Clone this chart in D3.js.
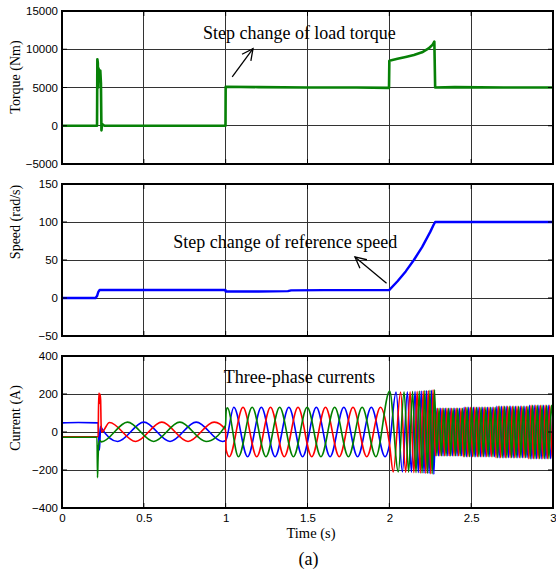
<!DOCTYPE html>
<html><head><meta charset="utf-8">
<script src="https://cdn.jsdelivr.net/npm/d3@7"></script>
<style>body{margin:0;background:#fff} svg{display:block;background:#fff}</style>
</head><body><svg id="c" width="556" height="576"></svg>
<script>
// ---------- data ----------
const torque = [[0,0],[0.1,0],[0.214,0],[0.216,8700],[0.219,8200],[0.221,5000],[0.223,7500],[0.228,7000],[0.234,7200],[0.238,5500],[0.241,-600],[0.245,200],[0.26,0],[0.6,0],[0.999,0],[1.0,5100],[1.2,5050],[1.5,5000],[1.8,5000],[1.998,4950],[2.0,8500],[2.05,8750],[2.1,9000],[2.15,9250],[2.2,9600],[2.24,10100],[2.265,10600],[2.275,11000],[2.28,5000],[2.4,5050],[2.7,5000],[3.0,5000]];
const speed = [[0,0],[0.205,0],[0.215,3],[0.222,8],[0.23,10.5],[0.5,10.5],[0.999,10.5],[1.0,8.5],[1.2,8.5],[1.38,9],[1.4,10],[1.6,10.3],[1.999,10.3],[2.05,22],[2.1,35],[2.15,50],[2.2,67],[2.25,87],[2.27,96],[2.28,100],[3.0,100]];
// phase currents (extrema of each phase)
const currentBlue = [[0,48],[0.1,50],[0.221,48],[0.224,-10],[0.228,-95],[0.232,-40],[0.236,30],[0.242,20],[0.34,-50],[0.50,52],[0.66,-50],[0.82,52],[0.98,-50],[1.0,-45],
 [1.05,130],[1.134,-130],[1.218,130],[1.302,-130],[1.386,130],[1.47,-130],[1.554,130],[1.638,-130],[1.722,130],[1.806,-130],[1.89,130],[1.974,-130],[2.0,-70],
 [2.041,210],[2.08,-210],[2.11,212],[2.135,-212],[2.157,214],[2.177,-214],[2.195,216],[2.212,-216],[2.228,218],[2.243,-218],[2.258,220],[2.272,-222],
 [2.285,125],[2.300,-125],[2.314,125],[2.328,-125],[2.342,125],[2.357,-125],[2.371,125],[2.385,-125],[2.400,125],[2.414,-125],[2.428,125],[2.442,-125],
 [2.457,130],[2.471,-130],[2.485,130],[2.500,-130],[2.514,130],[2.528,-130],[2.542,130],[2.557,-130],[2.571,130],[2.585,-130],[2.600,130],[2.614,-130],[2.628,130],[2.642,-130],
 [2.657,135],[2.671,-135],[2.685,135],[2.700,-135],[2.714,135],[2.728,-135],[2.742,135],[2.757,-135],[2.771,135],[2.785,-135],[2.800,135],[2.814,-135],[2.828,135],[2.842,-135],
 [2.857,140],[2.871,-140],[2.885,140],[2.900,-140],[2.914,140],[2.928,-140],[2.942,140],[2.957,-140],[2.971,140],[2.985,-140],[3.000,140]];
const currentRed = [[0,-25],[0.221,-25],[0.223,120],[0.226,205],[0.229,150],[0.232,200],[0.236,170],[0.239,40],[0.243,0],[0.29,50],[0.45,-50],[0.61,52],[0.77,-50],[0.93,52],[0.999,12],
 [1.003,-95],[1.022,-130],[1.106,130],[1.19,-130],[1.274,130],[1.358,-130],[1.442,130],[1.526,-130],[1.61,130],[1.694,-130],[1.778,130],[1.862,-130],[1.946,130],[2.0,-57],
 [2.024,-210],[2.069,210],[2.1,-212],[2.127,212],[2.15,-214],[2.17,214],[2.189,-216],[2.207,216],[2.223,-218],[2.238,218],[2.253,-220],[2.267,222],
 [2.281,-125],[2.295,125],[2.309,-125],[2.323,125],[2.338,-125],[2.352,125],[2.366,-125],[2.380,125],[2.395,-125],[2.409,125],[2.423,-125],[2.438,125],
 [2.452,-130],[2.466,130],[2.480,-130],[2.495,130],[2.509,-130],[2.523,130],[2.538,-130],[2.552,130],[2.566,-130],[2.580,130],[2.595,-130],[2.609,130],[2.623,-130],[2.638,130],
 [2.652,-135],[2.666,135],[2.680,-135],[2.695,135],[2.709,-135],[2.723,135],[2.738,-135],[2.752,135],[2.766,-135],[2.780,135],[2.795,-135],[2.809,135],[2.823,-135],[2.838,135],
 [2.852,-140],[2.866,140],[2.880,-140],[2.895,140],[2.909,-140],[2.923,140],[2.938,-140],[2.952,140],[2.966,-140],[2.980,140],[2.995,-140],[3.0,-120]];
const currentGreen = [[0,-28],[0.214,-28],[0.217,-240],[0.22,-150],[0.224,-70],[0.232,-45],[0.24,-52],[0.40,52],[0.56,-50],[0.72,52],[0.88,-50],[0.999,35],
 [1.003,110],[1.01,128],[1.078,-130],[1.162,130],[1.246,-130],[1.33,130],[1.414,-130],[1.498,130],[1.582,-130],[1.666,130],[1.75,-130],[1.834,130],[1.918,-130],
 [2.002,215],[2.055,-210],[2.09,212],[2.118,-212],[2.142,214],[2.163,-214],[2.183,216],[2.2,-216],[2.217,218],[2.233,-218],[2.248,220],[2.262,-220],[2.276,222],
 [2.290,-125],[2.304,125],[2.318,-125],[2.333,125],[2.347,-125],[2.361,125],[2.375,-125],[2.390,125],[2.404,-125],[2.418,125],[2.433,-125],[2.447,125],
 [2.461,-130],[2.475,130],[2.490,-130],[2.504,130],[2.518,-130],[2.533,130],[2.547,-130],[2.561,130],[2.575,-130],[2.590,130],[2.604,-130],[2.618,130],[2.633,-130],[2.647,130],
 [2.661,-135],[2.675,135],[2.690,-135],[2.704,135],[2.718,-135],[2.733,135],[2.747,-135],[2.761,135],[2.775,-135],[2.790,135],[2.804,-135],[2.818,135],[2.833,-135],[2.847,135],
 [2.861,-140],[2.875,140],[2.890,-140],[2.904,140],[2.918,-140],[2.933,140],[2.947,-140],[2.961,140],[2.975,-140],[2.990,140],[3.0,60]];

const xTicks = [0,0.5,1,1.5,2,2.5,3];
const xTickLabels = ["0","0.5","1","1.5","2","2.5","3"];
const torqueTicks = [-5000,0,5000,10000,15000];
const speedTicks = [-50,0,50,100,150];
const currentTicks = [-400,-200,0,200,400];
const yTitles = ["Torque (Nm)","Speed (rad/s)","Current (A)"];
const notes = ["Step change of load torque","Step change of reference speed","Three-phase currents"];
const xTitle = "Time (s)";
const caption = "(a)";
// annotation anchor points in data coordinates
const note1 = {text:[0.861,11370], arrow:[[1.04,6400],[1.167,10070]]};
const note2 = {text:[0.68,66], arrow:[[1.983,19.5],[1.79,54]]};
const note3 = {text:[0.988,259]};

// ---------- drawing ----------
const svg = d3.select("#c");
const X0 = 62, X1 = 553;
const x = d3.scaleLinear().domain([0,3]).range([X0,X1]);
const sans = "'Liberation Sans', Arial, sans-serif";
const serif = "'Liberation Serif', 'Times New Roman', serif";

svg.append("defs").append("marker")
  .attr("id","arr").attr("markerUnits","userSpaceOnUse")
  .attr("markerWidth",14).attr("markerHeight",14)
  .attr("viewBox","0 0 14 14").attr("refX",12).attr("refY",7).attr("orient","auto")
  .append("path").attr("d","M1,1.5 L12,7 L1,12.5").attr("fill","none")
  .attr("stroke","#000").attr("stroke-width",1.3);

const panels = [
  {top:11,bottom:164,domain:[-5000,15000],ticks:torqueTicks,title:yTitles[0],titleY:77},
  {top:184,bottom:336,domain:[-50,150],ticks:speedTicks,title:yTitles[1],titleY:222},
  {top:356,bottom:508,domain:[-400,400],ticks:currentTicks,title:yTitles[2],titleY:418}
];

panels.forEach((p,i)=>{
  const y = d3.scaleLinear().domain(p.domain).range([p.bottom,p.top]);
  p.y = y;
  const g = svg.append("g");
  // clip
  svg.select("defs").append("clipPath").attr("id","clip"+i)
    .append("rect").attr("x",X0).attr("y",p.top).attr("width",X1-X0).attr("height",p.bottom-p.top);
  // grid
  g.append("g").selectAll("line").data(xTicks.slice(1,-1)).join("line")
    .attr("x1",d=>x(d)).attr("x2",d=>x(d)).attr("y1",p.top).attr("y2",p.bottom)
    .attr("stroke","#333").attr("stroke-width",1).attr("shape-rendering","crispEdges");
  g.append("g").selectAll("line").data(p.ticks.slice(1,-1)).join("line")
    .attr("y1",d=>y(d)).attr("y2",d=>y(d)).attr("x1",X0).attr("x2",X1)
    .attr("stroke","#333").attr("stroke-width",1).attr("shape-rendering","crispEdges");
  // y tick labels via axis
  const ax = g.append("g").attr("transform",`translate(${X0},0)`)
    .call(d3.axisLeft(y).tickValues(p.ticks).tickSize(0).tickPadding(4).tickFormat(d3.format("d")));
  ax.select(".domain").remove();
  ax.selectAll("text").attr("font-family",sans).attr("font-size",11.5).attr("fill","#000");
  // y title
  svg.append("text").attr("transform",`translate(19.5,${p.titleY}) rotate(-90)`)
    .attr("text-anchor","middle").attr("font-family",serif).attr("font-size",14).text(p.title);
});

// data lines
const [pt, ps, pc] = panels;
const lineT = d3.line().x(d=>x(d[0])).y(d=>pt.y(d[1]));
svg.append("path").datum(torque).attr("clip-path","url(#clip0)").attr("d",lineT)
  .attr("fill","none").attr("stroke","#078107").attr("stroke-width",2.6).attr("stroke-linejoin","round");
const lineS = d3.line().x(d=>x(d[0])).y(d=>ps.y(d[1]));
svg.append("path").datum(speed).attr("clip-path","url(#clip1)").attr("d",lineS)
  .attr("fill","none").attr("stroke","#0000ff").attr("stroke-width",2.4).attr("stroke-linejoin","round");
const lineC = d3.line().x(d=>x(d[0])).y(d=>pc.y(d[1])).curve(d3.curveMonotoneX);
[[currentBlue,"#0000ff"],[currentRed,"#ff0000"],[currentGreen,"#008000"]].forEach(([data,col])=>{
  svg.append("path").datum(data).attr("clip-path","url(#clip2)").attr("d",lineC)
    .attr("fill","none").attr("stroke",col).attr("stroke-width",1.6).attr("stroke-linejoin","round");
});

// frames + inward ticks
panels.forEach(p=>{
  svg.append("rect").attr("x",X0).attr("y",p.top).attr("width",X1-X0).attr("height",p.bottom-p.top)
    .attr("fill","none").attr("stroke","#000").attr("stroke-width",2);
  const tg = svg.append("g").attr("stroke","#000").attr("stroke-width",1);
  p.ticks.forEach(v=>{
    tg.append("line").attr("x1",X0).attr("x2",X0+5).attr("y1",p.y(v)).attr("y2",p.y(v));
    tg.append("line").attr("x1",X1-5).attr("x2",X1).attr("y1",p.y(v)).attr("y2",p.y(v));
  });
  xTicks.forEach(v=>{
    tg.append("line").attr("x1",x(v)).attr("x2",x(v)).attr("y1",p.bottom).attr("y2",p.bottom-5);
    tg.append("line").attr("x1",x(v)).attr("x2",x(v)).attr("y1",p.top).attr("y2",p.top+5);
  });
});

// x axis labels
const xa = svg.append("g").attr("transform",`translate(0,${pc.bottom})`)
  .call(d3.axisBottom(x).tickValues(xTicks).tickSize(0).tickPadding(6).tickFormat((d,i)=>xTickLabels[i]));
xa.select(".domain").remove();
xa.selectAll("text").attr("font-family",sans).attr("font-size",11.5).attr("fill","#000");
svg.append("text").attr("x",311).attr("y",538).attr("text-anchor","middle")
  .attr("font-family",serif).attr("font-size",14.5).text(xTitle);
svg.append("text").attr("x",308.5).attr("y",565).attr("text-anchor","middle")
  .attr("font-family",serif).attr("font-size",18).text(caption);

// annotations
svg.append("text").attr("x",x(note1.text[0])).attr("y",pt.y(note1.text[1]))
  .attr("font-family",serif).attr("font-size",18).text(notes[0]);
svg.append("line").attr("x1",x(note1.arrow[0][0])).attr("y1",pt.y(note1.arrow[0][1]))
  .attr("x2",x(note1.arrow[1][0])).attr("y2",pt.y(note1.arrow[1][1]))
  .attr("stroke","#000").attr("stroke-width",1.3).attr("marker-end","url(#arr)");
svg.append("text").attr("x",x(note2.text[0])).attr("y",ps.y(note2.text[1]))
  .attr("font-family",serif).attr("font-size",18).text(notes[1]);
svg.append("line").attr("x1",x(note2.arrow[0][0])).attr("y1",ps.y(note2.arrow[0][1]))
  .attr("x2",x(note2.arrow[1][0])).attr("y2",ps.y(note2.arrow[1][1]))
  .attr("stroke","#000").attr("stroke-width",1.3).attr("marker-end","url(#arr)");
svg.append("text").attr("x",x(note3.text[0])).attr("y",pc.y(note3.text[1]))
  .attr("font-family",serif).attr("font-size",18).text(notes[2]);
</script></body></html>
